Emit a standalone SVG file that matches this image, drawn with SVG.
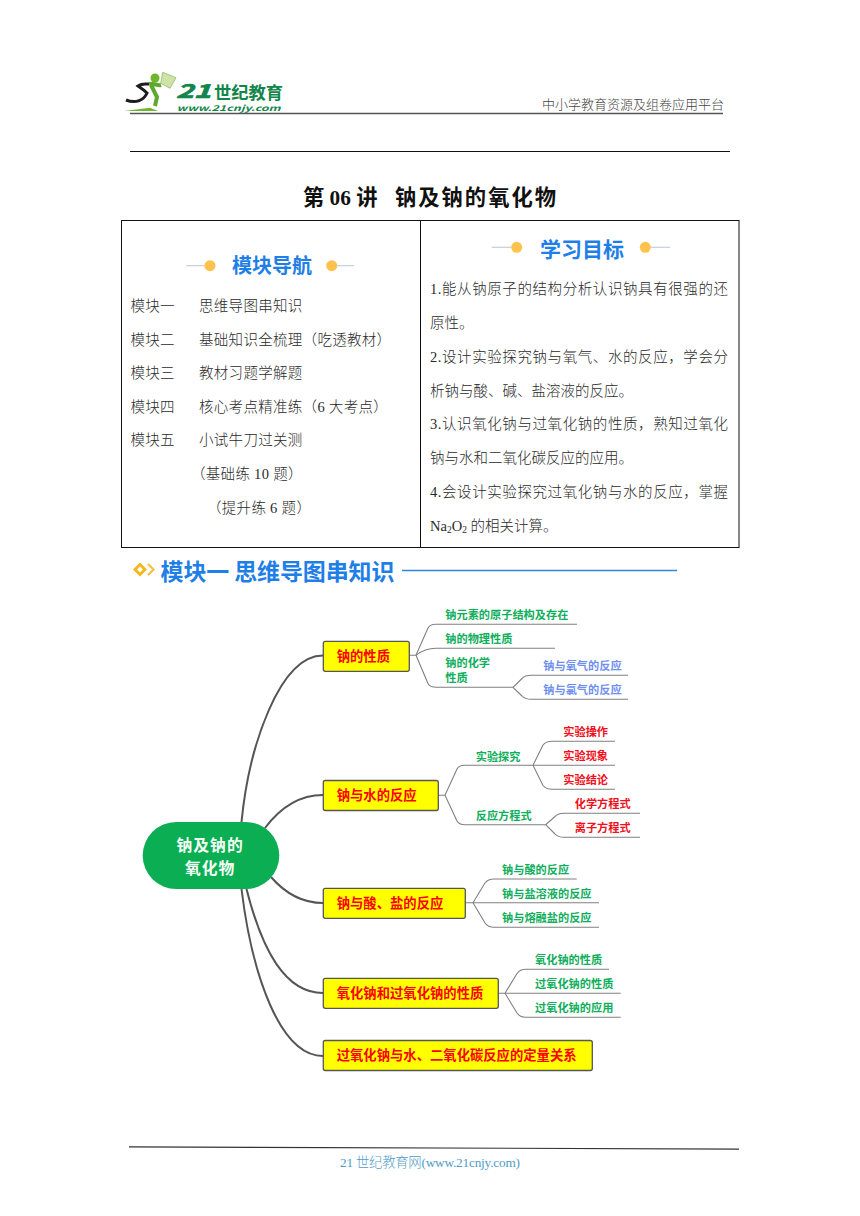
<svg xmlns="http://www.w3.org/2000/svg" width="860" height="1216" viewBox="0 0 860 1216">
<style>
text{font-family:"Liberation Serif","Noto Sans CJK SC",serif}
.b{font-size:14.5px;fill:#2a2a2a;font-weight:300;letter-spacing:.3px}
.r{font-size:14.5px;fill:#2a2a2a;font-weight:300}
.s{font-family:"Noto Sans CJK SC","Liberation Sans",sans-serif;font-weight:700}
.box{fill:#ff0;stroke:#555;stroke-width:1.3}
.bt{font-size:13.33px;fill:#f00}
.g{font-size:11.2px;fill:#0fae5c}
.v{font-size:11.2px;fill:#6f8ff0}
.c{font-size:11.2px;fill:#f01020}
.main{fill:none;stroke:#555;stroke-width:2}
.br{fill:none;stroke:#808080;stroke-width:1.1}
.ico{fill:#ffc24d}
.il{stroke:#c6cfdc;stroke-width:1.2}
.hd{font-size:20px;fill:#1f7fe6}
</style>
<rect width="860" height="1216" fill="#fff"/>
<g id="logo">
<polygon points="162.700,72.300 176,77.700 170,88.300 160.700,83.300" fill="#cfe3a8" stroke="#8dbb6a" stroke-width=".8"/>
<circle cx="155" cy="78" r="4.500" fill="#6fb52e"/>
<path d="M126 100C136 104 144 100 147 93C144 90 141 88 138 86C142 83 145 84 149 84" fill="none" stroke="#1c1c1c" stroke-width="3"/>
<path d="M149 84C153 83 158 86 161 85M151 85L157 97L155 106" fill="none" stroke="#5fa830" stroke-width="4"/>
<polygon points="124,111 150,107.700 158,111" fill="#6fb52e"/>
<text class="s" x="176" y="98" font-size="19" font-style="italic" textLength="35" lengthAdjust="spacingAndGlyphs" fill="#12864a" stroke="#12864a" stroke-width=".7">21</text>
<text class="s" x="214" y="98.500" font-size="17.300" fill="#12864a">世纪教育</text>
<text class="s" x="176.500" y="111" font-size="8" font-style="italic" textLength="104" lengthAdjust="spacingAndGlyphs" fill="#12864a">www.21cnjy.com</text>
</g>
<g id="header">
<line x1="130" y1="113.500" x2="723" y2="113.500" stroke="#555" stroke-width="1.300"/>
<text x="542" y="109" font-size="13" fill="#444" font-weight="300">中小学教育资源及组卷应用平台</text>
<line x1="130" y1="151.500" x2="730" y2="151.500" stroke="#111" stroke-width="1"/>
<text x="303" y="205" font-size="21.300" font-weight="700" fill="#111">第 06 讲</text>
<text x="395" y="205" font-size="21.300" font-weight="700" fill="#111" textLength="161">钠及钠的氧化物</text>
</g>
<g id="table">
<rect x="121.500" y="220.500" width="617.500" height="327" fill="none" stroke="#111" stroke-width="1"/>
<line x1="420.500" y1="220.500" x2="420.500" y2="547.500" stroke="#111" stroke-width="1"/>
</g>
<g id="nav">
<line class="il" x1="186" y1="265.700" x2="205" y2="265.700"/><circle class="ico" cx="210" cy="265.700" r="5.500"/>
<text class="s hd" x="232" y="273">模块导航</text>
<circle class="ico" cx="331.700" cy="265.700" r="5.500"/><line class="il" x1="337" y1="265.700" x2="354" y2="265.700"/>
<text class="b" x="130.500" y="311">模块一</text><text class="b" x="199" y="311">思维导图串知识</text>
<text class="b" x="130.500" y="344.500">模块二</text><text class="b" x="199" y="344.500">基础知识全梳理（吃透教材）</text>
<text class="b" x="130.500" y="378">模块三</text><text class="b" x="199" y="378">教材习题学解题</text>
<text class="b" x="130.500" y="411.500">模块四</text><text class="b" x="199" y="411.500">核心考点精准练（6 大考点）</text>
<text class="b" x="130.500" y="445">模块五</text><text class="b" x="199" y="445">小试牛刀过关测</text>
<text class="b" x="191" y="479">（基础练 10 题）</text>
<text class="b" x="207" y="513">（提升练 6 题）</text>
</g>
<g id="goals">
<line class="il" x1="491.700" y1="247.300" x2="512" y2="247.300"/><circle class="ico" cx="516.700" cy="247.300" r="5.500"/>
<text class="s hd" x="540" y="256.500" style="font-size:21px">学习目标</text>
<circle class="ico" cx="645.300" cy="247.300" r="5.500"/><line class="il" x1="651" y1="247.300" x2="670" y2="247.300"/>
<text class="r" x="430" y="294" textLength="298">1.能从钠原子的结构分析认识钠具有很强的还</text>
<text class="r" x="430" y="328">原性。</text>
<text class="r" x="430" y="361.500" textLength="298">2.设计实验探究钠与氧气、水的反应，学会分</text>
<text class="r" x="430" y="395.500">析钠与酸、碱、盐溶液的反应。</text>
<text class="r" x="430" y="429" textLength="298">3.认识氧化钠与过氧化钠的性质，熟知过氧化</text>
<text class="r" x="430" y="463">钠与水和二氧化碳反应的应用。</text>
<text class="r" x="430" y="496.500" textLength="298">4.会设计实验探究过氧化钠与水的反应，掌握</text>
<text class="r" x="430" y="530.500">Na<tspan font-size="9.500" dy="2">2</tspan><tspan dy="-2">O</tspan><tspan font-size="9.500" dy="2">2</tspan><tspan dy="-2"> 的相关计算。</tspan></text>
</g>
<g id="section">
<polygon points="140,562.500 147,569.500 140,576.500 133,569.500" fill="#f8b616"/>
<rect x="137.900" y="567.400" width="4.200" height="4.200" fill="#fff" transform="rotate(45 140 569.500)"/>
<path d="M148 564L153.500 569.500L148 575" fill="none" stroke="#f8c040" stroke-width="2.200"/>
<text class="s" x="160.500" y="580" font-size="23" fill="#1f7fe6" textLength="234">模块一 思维导图串知识</text>
<line x1="402" y1="570.500" x2="677" y2="570.500" stroke="#2f86e0" stroke-width="1.300"/>
</g>
<g id="connectors">
<path class="main" d="M241.500 822C249 745 280 655.500 323 655.500"/>
<path class="main" d="M265 828C280 808 300 795 323 795"/>
<path class="main" d="M271 877C284 892 302 903 323 903"/>
<path class="main" d="M246.500 889C262 950 285 993 323 993"/>
<path class="main" d="M241.500 889C252 975 280 1056 323 1056"/>
<path class="br" d="M409.500 655.300H416L428 628Q430 624.300 436 624.300H577"/>
<path class="br" d="M416 655.300Q425 648.300 436 648.300H555"/>
<path class="br" d="M416 655.300L428 683.500Q430 687.300 436 687.300H513L522 696Q525 699.300 531 699.300H628"/>
<path class="br" d="M513 687.300L522 678.500Q525 675.300 531 675.300H628"/>
<path class="br" d="M438.500 795.300H445L457 769Q459 765.300 465 765.300H533L543 745Q546 741.300 552 741.300H615"/>
<path class="br" d="M533 765.300H615"/>
<path class="br" d="M533 765.300L543 785.500Q546 789.300 552 789.300H615"/>
<path class="br" d="M445 795.300L457 821Q459 824.700 465 824.700H545.700L555 816.500Q558 813.300 564 813.300H640"/>
<path class="br" d="M545.700 824.700L555 834Q558 837.300 564 837.300H640"/>
<path class="br" d="M465.500 902.700H473L485 883Q488 879 494 879H576.700"/>
<path class="br" d="M473 902.700H599"/>
<path class="br" d="M473 902.700L485 923Q488 927.300 494 927.300H599"/>
<path class="br" d="M498.500 993.300H505L517 973.500Q520 969.300 526 969.300H609"/>
<path class="br" d="M505 993.300H620.700"/>
<path class="br" d="M505 993.300L517 1013Q520 1017.300 526 1017.300H620.700"/>
</g>
<g id="root"><rect x="142.700" y="822" width="136.600" height="67" rx="33.500" fill="#0bae53"/>
<text class="s" x="176.500" y="850.500" font-size="15.800" fill="#f4fff6" letter-spacing="1">钠及钠的</text>
<text class="s" x="185" y="874" font-size="15.800" fill="#f4fff6" letter-spacing="1">氧化物</text></g>
<g id="n1"><rect class="box" x="323.300" y="641.300" width="86" height="30" rx="2"/><text class="s bt" x="336.700" y="661">钠的性质</text></g>
<g id="n2"><rect class="box" x="323.300" y="780.500" width="115" height="30" rx="2"/><text class="s bt" x="336.700" y="800">钠与水的反应</text></g>
<g id="n3"><rect class="box" x="323.300" y="888.300" width="142" height="30" rx="2"/><text class="s bt" x="336.700" y="908">钠与酸、盐的反应</text></g>
<g id="n4"><rect class="box" x="323.300" y="978.300" width="175" height="30" rx="2"/><text class="s bt" x="336.700" y="998">氧化钠和过氧化钠的性质</text></g>
<g id="n5"><rect class="box" x="323.300" y="1040.500" width="269" height="30" rx="2"/><text class="s bt" x="336.700" y="1060">过氧化钠与水、二氧化碳反应的定量关系</text></g>
<g id="n1-leaves">
<text class="s g" x="445.300" y="619">钠元素的原子结构及存在</text>
<text class="s g" x="445.300" y="642.500">钠的物理性质</text>
<text class="s g" x="445.300" y="667">钠的化学</text>
<text class="s g" x="445.300" y="682">性质</text>
<text class="s v" x="543.300" y="670">钠与氧气的反应</text>
<text class="s v" x="543.300" y="694">钠与氯气的反应</text>
</g>
<g id="n2-leaves">
<text class="s g" x="475.700" y="760.500">实验探究</text>
<text class="s g" x="475.700" y="820">反应方程式</text>
<text class="s c" x="563.300" y="736">实验操作</text>
<text class="s c" x="563.300" y="760">实验现象</text>
<text class="s c" x="563.300" y="784">实验结论</text>
<text class="s c" x="574.700" y="808">化学方程式</text>
<text class="s c" x="574.700" y="832">离子方程式</text>
</g>
<g id="n3-leaves">
<text class="s g" x="502" y="874">钠与酸的反应</text>
<text class="s g" x="502" y="898">钠与盐溶液的反应</text>
<text class="s g" x="502" y="922">钠与熔融盐的反应</text>
</g>
<g id="n4-leaves">
<text class="s g" x="535" y="964">氧化钠的性质</text>
<text class="s g" x="535" y="988">过氧化钠的性质</text>
<text class="s g" x="535" y="1012">过氧化钠的应用</text>
</g>
<g id="footer">
<polygon points="129,1146.300 739,1148.500 739,1149.700 129,1147.500" fill="#333"/>
<text x="340" y="1167" font-size="13.300" fill="#4f9cc6" font-weight="300" textLength="180">21 世纪教育网(www.21cnjy.com)</text>
</g>
</svg>
